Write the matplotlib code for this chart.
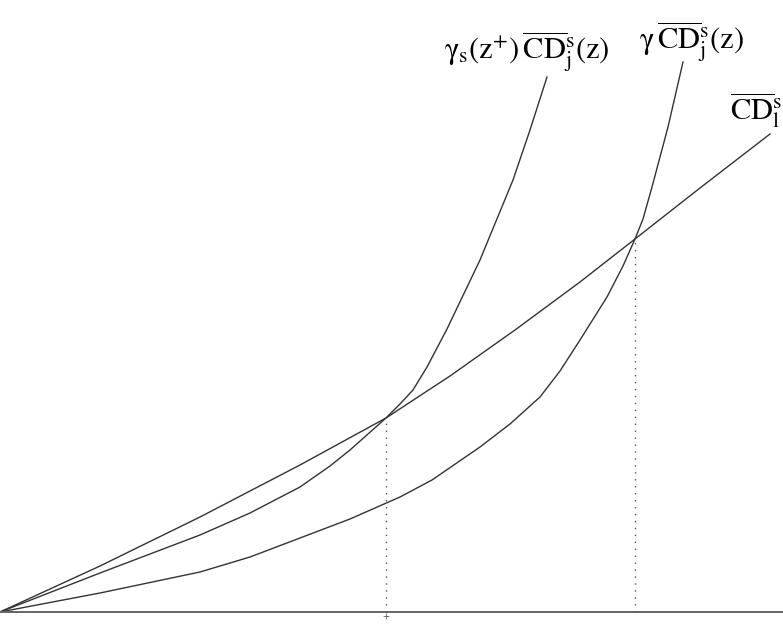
import matplotlib
matplotlib.use("Agg")
import matplotlib.pyplot as plt

plt.rcParams["mathtext.fontset"] = "stix"
plt.rcParams["font.family"] = ["Liberation Serif", "DejaVu Serif"]

# values (x = z, y = value above the axis)
z_l = [0, 100, 200, 300, 386, 450, 515, 580, 635, 700, 770]
cd_l = [0, 46, 95, 147, 194, 236, 282, 330, 373, 424, 478]

z_s = [0, 100, 200, 250, 300, 330, 350, 386, 400, 413, 427, 447, 480, 513, 530, 547]
gamma_s_cd = [0, 39, 77, 99, 125, 146, 162, 194, 208, 222, 245, 283, 352, 432, 482, 535]

z_g = [0, 100, 200, 250, 300, 350, 400, 432, 480, 510, 540, 560, 580, 607, 623, 635, 643, 652, 668, 683]
gamma_cd = [0, 19, 40, 55, 74, 93, 115, 132, 165, 188, 215, 241, 272, 315, 346, 373, 393, 425, 485, 550]

z_cross = [386, 635]
y_cross = [194, 373]

fig = plt.figure(figsize=(7.83, 6.25), dpi=100)
ax = fig.add_axes([0, 0, 1, 1])
ax.set_xlim(0, 783)
ax.set_ylim(-13, 612)
ax.axis("off")

lc = "#333333"
ax.plot(z_l, cd_l, color=lc, lw=1.0)
ax.plot(z_s, gamma_s_cd, color=lc, lw=1.0)
ax.plot(z_g, gamma_cd, color=lc, lw=1.0)

# horizontal axis
ax.axhline(0, color="#666666", lw=1.4)

# dotted drop lines
for zc, yc in zip(z_cross, y_cross):
    ax.plot([zc, zc], [0, yc], color="#555555", lw=1.0, linestyle=(0, (1, 4)))

ax.text(386, -6.5, "+", ha="center", va="center", fontsize=9, color="#333333")

fs = 22
ax.text(527, 560, r"$\mathrm{\gamma}_{\mathrm{s}}(\mathrm{z}^{+})\,\overline{\mathrm{CD}}{}^{\mathrm{s}}_{\mathrm{j}}(\mathrm{z})$",
        ha="center", va="center", fontsize=fs, color="black")
ax.text(692, 570, r"$\mathrm{\gamma}\,\overline{\mathrm{CD}}{}^{\mathrm{s}}_{\mathrm{j}}(\mathrm{z})$",
        ha="center", va="center", fontsize=fs, color="black")
ax.text(730, 502, r"$\overline{\mathrm{CD}}{}^{\mathrm{s}}_{\mathrm{l}}$",
        ha="left", va="center", fontsize=fs, color="black")

fig.savefig("out.png", dpi=100)
